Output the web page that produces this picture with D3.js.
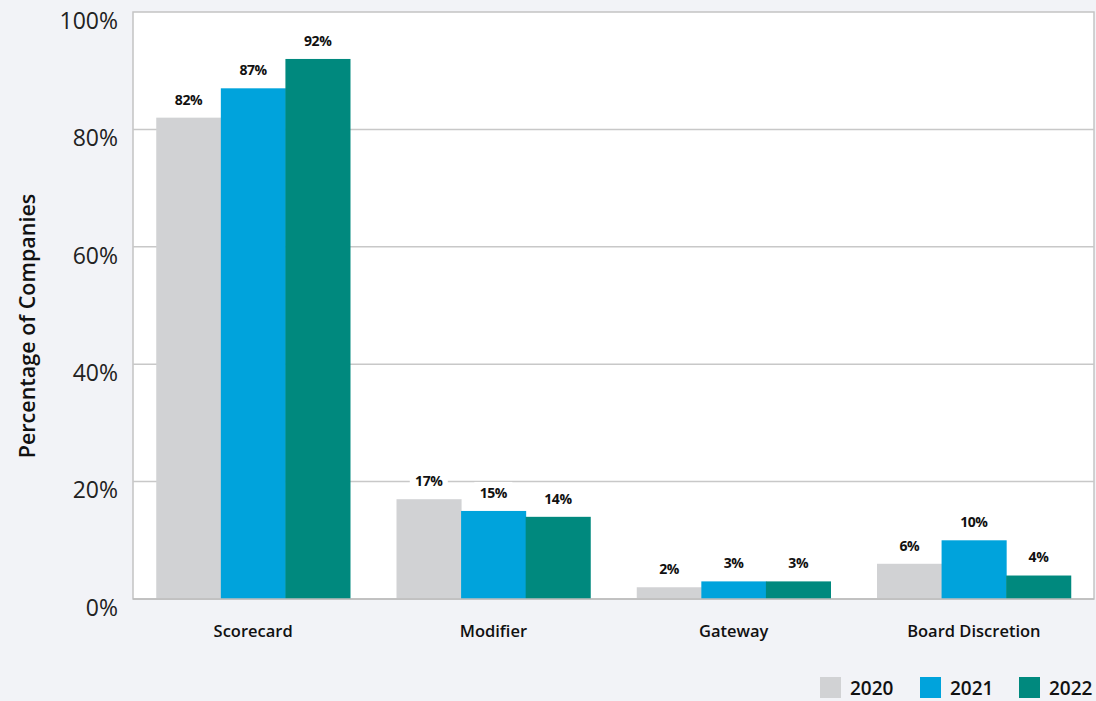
<!DOCTYPE html>
<html><head><meta charset="utf-8">
<script src="https://cdn.jsdelivr.net/npm/d3@7"></script>
<style>
html,body{margin:0;padding:0;background:#f2f3f7;}
svg{display:block;font-family:"Open Sans","Noto Sans",sans-serif;}
</style></head>
<body>
<script>
const categories = ["Scorecard","Modifier","Gateway","Board Discretion"];
const years = ["2020","2021","2022"];
const v2020 = [82,17,2,6];
const v2021 = [87,15,3,10];
const v2022 = [92,14,3,4];
const yTicks = [0,20,40,60,80,100];
const colors = ["#d1d2d4","#00a3dc","#00897e"];
const seriesVals = [v2020, v2021, v2022];

const W=1096,H=701;
const m={l:133,t:12,r:1094,b:599};
const svg=d3.select("body").append("svg").attr("width",W).attr("height",H);
svg.append("rect").attr("width",W).attr("height",H).attr("fill","#f2f3f7");

const x=d3.scaleBand().domain(categories).range([m.l,m.r]).padding(0);
const xs=d3.scaleBand().domain(years).range([0,x.bandwidth()]).paddingInner(0).paddingOuter(0.36);
const y=d3.scaleLinear().domain([0,100]).range([m.b,m.t]);

svg.append("rect").attr("x",m.l).attr("y",m.t).attr("width",m.r-m.l).attr("height",m.b-m.t)
  .attr("fill","#fff").attr("stroke","#c4c4c4").attr("stroke-width",1.5);

svg.append("g").selectAll("line").data(yTicks.filter(d=>d>0&&d<100)).join("line")
  .attr("x1",m.l).attr("x2",m.r).attr("y1",d=>y(d)).attr("y2",d=>y(d))
  .attr("stroke","#c8c8c8").attr("stroke-width",1.5);

// y axis labels
const yAxis=d3.axisLeft(y).tickValues(yTicks).tickFormat(d=>d+"%").tickSize(0).tickPadding(15);
const ga=svg.append("g").attr("transform",`translate(${m.l},8)`).call(yAxis);
ga.select(".domain").remove();
ga.selectAll("text").attr("font-size",23).attr("fill","#222").attr("font-family","'Open Sans',sans-serif").attr("dy","0.36em");

svg.append("text").attr("transform",`translate(35,${326}) rotate(-90)`)
  .attr("text-anchor","middle").attr("font-size",21.5).attr("font-weight",600).attr("fill","#111")
  .text("Percentage of Companies");

// bars
const data=[];
categories.forEach((c,i)=>years.forEach((yr,j)=>data.push({c,yr,v:seriesVals[j][i],j})));
const bars=svg.append("g");
bars.selectAll("rect").data(data).join("rect")
  .attr("x",d=>x(d.c)+xs(d.yr)).attr("width",xs.bandwidth()+0.5)
  .attr("y",d=>y(d.v)).attr("height",d=>y(0)-y(d.v)).attr("fill",d=>colors[d.j]);

// axis baseline
svg.append("line").attr("x1",m.l).attr("x2",m.r).attr("y1",m.b).attr("y2",m.b).attr("stroke","#bdbdbd").attr("stroke-width",1.5);

// labels
const lg=svg.append("g");
data.forEach(d=>{
  const cx=x(d.c)+xs(d.yr)+xs.bandwidth()/2;
  const cy=y(d.v)-18;
  lg.append("rect").attr("x",cx-19).attr("y",cy-11).attr("width",38).attr("height",22).attr("fill","#fff");
  lg.append("text").attr("x",cx).attr("y",cy).attr("dy","0.35em").attr("text-anchor","middle")
    .attr("font-size",14).attr("font-weight",700).attr("fill","#111").attr("letter-spacing","-0.4")
    .text(d.v+"%");
});

// x labels
const xAxis=d3.axisBottom(x).tickSize(0).tickPadding(0);
const gx=svg.append("g").attr("transform",`translate(0,${m.b})`).call(xAxis);
gx.select(".domain").remove();
gx.selectAll("text").attr("font-size",16.5).attr("font-weight",600).attr("fill","#111")
  .attr("font-family","'Open Sans',sans-serif").attr("dy",null).attr("y",38);

// legend
const legX=[820,920,1019];
const leg=svg.append("g");
years.forEach((yr,i)=>{
  leg.append("rect").attr("x",legX[i]).attr("y",677).attr("width",21).attr("height",21).attr("fill",colors[i]);
  leg.append("text").attr("x",legX[i]+30).attr("y",688).attr("dy","0.36em")
    .attr("font-size",19).attr("font-weight",600).attr("fill","#111").text(yr);
});
</script>
</body></html>
